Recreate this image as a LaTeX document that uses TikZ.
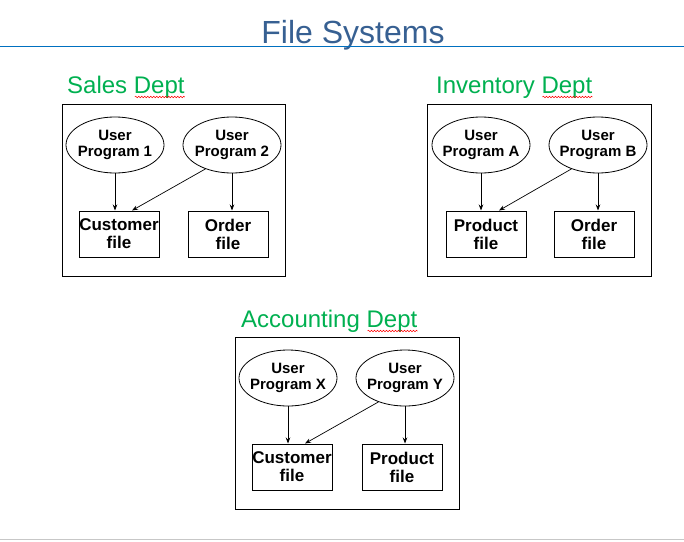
\documentclass[tikz,border=0pt]{standalone}
\usepackage{fontspec}
\setmainfont{Liberation Sans}
\usetikzlibrary{arrows.meta,shapes.geometric,decorations.pathmorphing}

\definecolor{titleblue}{RGB}{55,96,146}
\definecolor{ruleblue}{RGB}{0,112,192}
\definecolor{deptgreen}{RGB}{0,176,80}

\begin{document}
\begin{tikzpicture}[
    x=1pt, y=-1pt,
    prog/.style={draw, ellipse, line width=0.8pt, minimum width=98pt, minimum height=56pt, inner xsep=-5pt, inner ysep=0pt, align=center, font=\fontsize{15}{16}\selectfont\bfseries},
    file/.style={draw, rectangle, line width=1pt, minimum width=80pt, minimum height=46pt, inner sep=0pt, align=center, font=\fontsize{17}{18}\selectfont\bfseries},
    dept/.style={draw, line width=1pt},
    edge/.style={-{Stealth[length=6pt,width=4.5pt]}, line width=0.7pt},
    label/.style={anchor=base west, inner sep=0pt, text=deptgreen, font=\fontsize{24}{26}\selectfont},
    title/.style={anchor=base, inner sep=0pt, text=titleblue, font=\fontsize{32}{34}\selectfont},
    squiggle/.style={red, line width=0.5pt, decorate, decoration={snake, amplitude=0.8pt, segment length=3pt}},
]
\useasboundingbox (0,0) rectangle (684,541);

\node[title] (ttl) at (353,43) {File Systems};
\draw[ruleblue, line width=1pt] (0,46.5) -- (684,46.5);
\draw[black!22, line width=1.5pt] (0,539.5) -- (684,539.5);

% Sales
\node[label] (lsales) at (67,93) {Sales Dept};
\draw[squiggle] ([xshift=-50pt,yshift=-4pt]lsales.base east) -- ([yshift=-4pt]lsales.base east);
\draw[dept] (62,104) rectangle (285,276);
\node[prog] (s1) at (115,145) {User\\Program 1};
\node[prog] (s2) at (232,145) {User\\Program 2};
\node[file] (scust) at (119,234) {Customer\\file};
\node[file] (sord) at (228,234) {Order\\file};

\draw[edge] (s1.south) -- (s1.south |- scust.north);
\draw[edge] (s2.222) -- ([xshift=13pt]scust.north);
\draw[edge] (s2.south) -- (s2.south |- sord.north);

% Inventory
\node[label] (linv) at (436,93) {Inventory Dept};
\draw[squiggle] ([xshift=-50pt,yshift=-4pt]linv.base east) -- ([yshift=-4pt]linv.base east);
\draw[dept] (427,104) rectangle (651,276);
\node[prog] (ia) at (481,145) {User\\Program A};
\node[prog] (ib) at (598,145) {User\\Program B};
\node[file] (iprod) at (486,234) {Product\\file};
\node[file] (iord) at (594,234) {Order\\file};

\draw[edge] (ia.south) -- (ia.south |- iprod.north);
\draw[edge] (ib.222) -- ([xshift=13pt]iprod.north);
\draw[edge] (ib.south) -- (ib.south |- iord.north);

% Accounting
\node[label] (lacc) at (241,327) {Accounting Dept};
\draw[squiggle] ([xshift=-50pt,yshift=-4pt]lacc.base east) -- ([yshift=-4pt]lacc.base east);
\draw[dept] (235,337) rectangle (459,509);
\node[prog] (ax) at (288,378) {User\\Program X};
\node[prog] (ay) at (405,378) {User\\Program Y};
\node[file] (acust) at (292,467) {Customer\\file};
\node[file] (aprod) at (402,467) {Product\\file};

\draw[edge] (ax.south) -- (ax.south |- acust.north);
\draw[edge] (ay.222) -- ([xshift=13pt]acust.north);
\draw[edge] (ay.south) -- (ay.south |- aprod.north);

\end{tikzpicture}
\end{document}
